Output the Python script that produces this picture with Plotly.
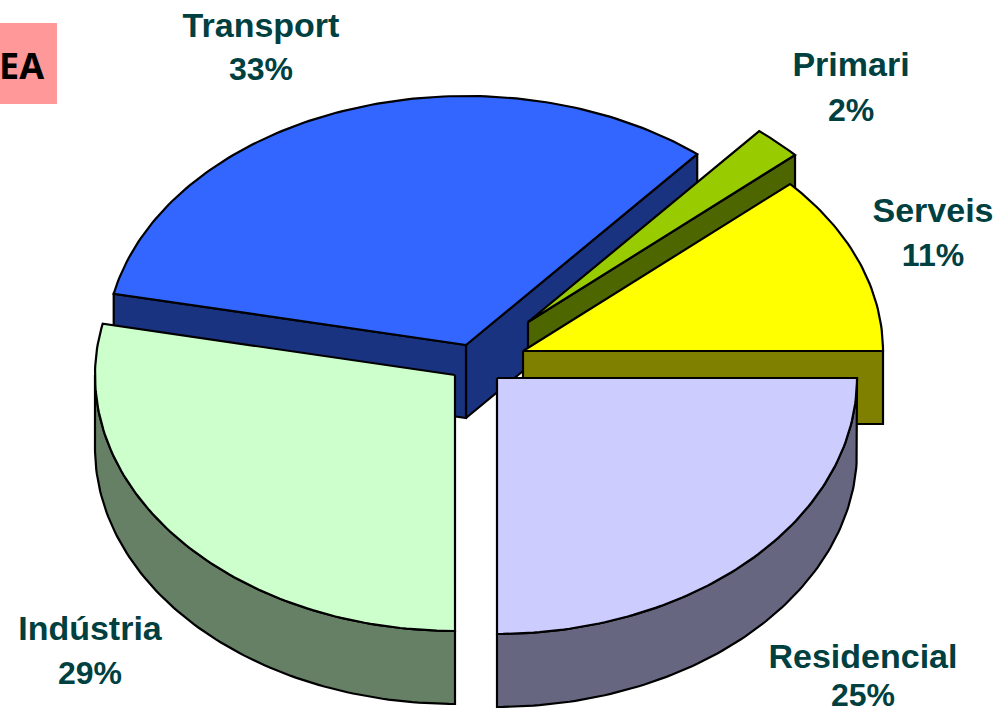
import numpy as np
import plotly.graph_objects as go

categories = ["Serveis", "Primari", "Transport", "Indústria", "Residencial"]
shares = [11.7, 2.2, 32.8, 28.3, 25]
share_labels = ["11%", "2%", "33%", "29%", "25%"]
top_colors = ["#FFFF00", "#99CC00", "#3366FF", "#CCFFCC", "#CCCCFF"]
wall_colors = ["#808000", "#4D6600", "#1A3380", "#668066", "#666680"]
apex_x = [523, 528, 466, 455, 497]
apex_y = [351, 322, 345, 375, 378]
label_x = [933, 851, 261, 90, 863]
label_y1 = [213, 67, 28, 631, 659]
label_y2 = [258, 113, 72, 676, 698]
draw_order = [2, 1, 0, 3, 4]

RX, RY_BACK, RY_FRONT, DEPTH = 360, 249, 256, 73

total = sum(shares)
edges = np.concatenate([[0], np.cumsum(shares)]) / total * 2 * np.pi


def ell(ax, ay, t, drop=0.0):
    s = np.sin(t)
    return ax + RX * np.cos(t), ay - np.where(s > 0, RY_BACK, RY_FRONT) * s + drop


def rim(ax, ay, a0, a1, drop=0.0):
    n = max(2, int(abs(a1 - a0) * 60))
    return ell(ax, ay, np.linspace(a0, a1, n), drop)


def poly(fig, xs, ys, color):
    fig.add_trace(go.Scatter(
        x=list(xs) + [xs[0]], y=list(ys) + [ys[0]], mode="lines", fill="toself",
        fillcolor=color, line=dict(color="black", width=2.2, shape="linear"),
        hoverinfo="skip", showlegend=False,
    ))


fig = go.Figure()
for i in draw_order:
    ax, ay = apex_x[i], apex_y[i]
    a0, a1 = edges[i], edges[i + 1]
    # radial walls that face the viewer
    if i in (0, 1, 2):
        ex, ey = ell(ax, ay, a0)
        poly(fig, [ax, ex, ex, ax], [ay, ey, ey + DEPTH, ay + DEPTH], wall_colors[i])
    if i == 2:
        ex, ey = ell(ax, ay, a1)
        poly(fig, [ax, ex, ex, ax], [ay, ey, ey + DEPTH, ay + DEPTH], wall_colors[i])
    # outer wall, lower half of the ellipse only
    b0, b1 = max(a0, np.pi), min(a1, 2 * np.pi)
    if b1 > b0:
        x1, y1 = rim(ax, ay, b0, b1)
        x2, y2 = rim(ax, ay, b1, b0, DEPTH)
        poly(fig, np.r_[x1, x2], np.r_[y1, y2], wall_colors[i])
    # top face
    x1, y1 = rim(ax, ay, a0, a1)
    poly(fig, np.r_[ax, x1], np.r_[ay, y1], top_colors[i])

fig.add_trace(go.Scatter(
    x=label_x, y=label_y1, text=[f"<b>{c}</b>" for c in categories], mode="text",
    textposition="middle center",
    textfont=dict(family="Liberation Sans", size=34, color="#004040"),
    hoverinfo="skip", showlegend=False))
fig.add_trace(go.Scatter(
    x=label_x, y=label_y2, text=[f"<b>{c}</b>" for c in share_labels], mode="text",
    textposition="middle center",
    textfont=dict(family="Liberation Sans", size=32, color="#004040"),
    hoverinfo="skip", showlegend=False))

fig.add_shape(type="rect", x0=0, x1=57, y0=23, y1=104, fillcolor="#FF9999",
              line=dict(width=0), layer="below")
fig.add_annotation(x=46, y=65, text="<b>EA</b>", showarrow=False, xanchor="right",
                   yanchor="middle", font=dict(family="Noto Sans", size=36, color="black"))

fig.update_layout(
    width=1001, height=717, margin=dict(l=0, r=0, t=0, b=0),
    paper_bgcolor="white", plot_bgcolor="white", showlegend=False,
    xaxis=dict(range=[0, 1001], visible=False, fixedrange=True),
    yaxis=dict(range=[717, 0], visible=False, fixedrange=True),
)
fig.write_html("out.html", post_script="document.body.style.margin='0';document.body.style.overflow='hidden';",
               config=dict(displayModeBar=False))
